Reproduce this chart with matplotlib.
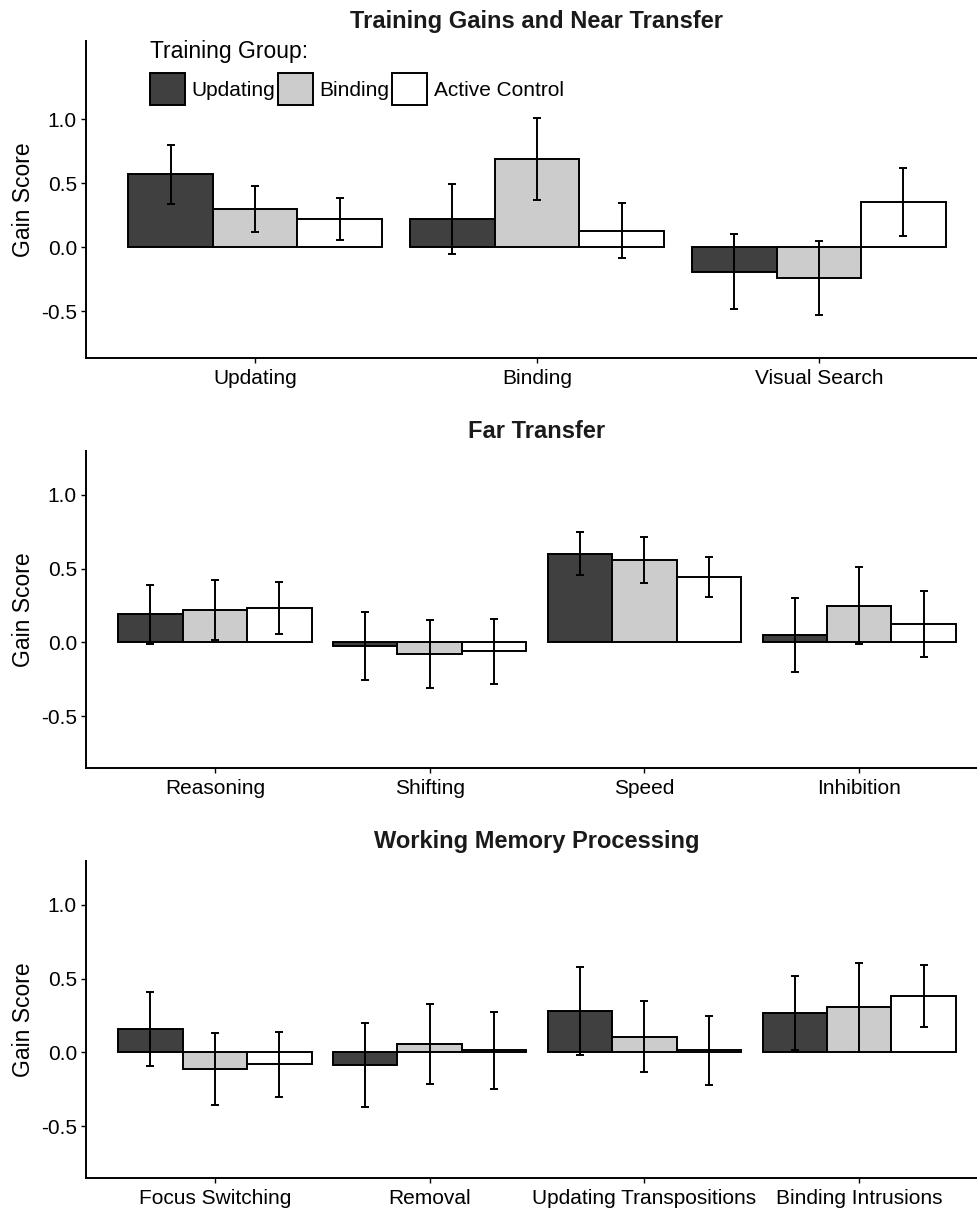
import numpy as np
import matplotlib.pyplot as plt
from matplotlib.ticker import FuncFormatter

plt.rcParams['font.family'] = ['Liberation Sans', 'DejaVu Sans']
plt.rcParams['axes.unicode_minus'] = False

# groups
groups = ["Updating", "Binding", "Active Control"]
fills = ["#404040", "#cccccc", "#ffffff"]

# panel 1: training gains and near transfer
cats1 = ["Updating", "Binding", "Visual Search"]
mean1 = [[0.57, 0.22, -0.19],      # Updating group
         [0.30, 0.69, -0.24],      # Binding group
         [0.22, 0.13, 0.35]]       # Active control
err1 = [[0.23, 0.27, 0.29],
        [0.18, 0.32, 0.29],
        [0.165, 0.215, 0.265]]

# panel 2: far transfer
cats2 = ["Reasoning", "Shifting", "Speed", "Inhibition"]
mean2 = [[0.19, -0.025, 0.60, 0.05],
         [0.22, -0.08, 0.56, 0.25],
         [0.235, -0.06, 0.445, 0.125]]
err2 = [[0.20, 0.23, 0.145, 0.25],
        [0.205, 0.23, 0.155, 0.26],
        [0.175, 0.22, 0.135, 0.225]]

# panel 3: working memory processing
cats3 = ["Focus Switching", "Removal", "Updating Transpositions", "Binding Intrusions"]
mean3 = [[0.16, -0.085, 0.28, 0.265],
         [-0.11, 0.055, 0.105, 0.305],
         [-0.08, 0.015, 0.015, 0.38]]
err3 = [[0.25, 0.285, 0.30, 0.25],
        [0.245, 0.27, 0.24, 0.30],
        [0.22, 0.26, 0.235, 0.21]]

panels = [("Training Gains and Near Transfer", cats1, mean1, err1, (-0.8625, 1.6125)),
          ("Far Transfer", cats2, mean2, err2, (-0.8475, 1.2975)),
          ("Working Memory Processing", cats3, mean3, err3, (-0.8475, 1.2975))]

W, H = 978, 1209
fig = plt.figure(figsize=(W / 100, H / 100), dpi=100)

tops = [40.7, 450.7, 860.7]
ph = 317
left, right = 86, 988

for k, (title, cats, means, errs, ylim) in enumerate(panels):
    ax = fig.add_axes([left / W, 1 - (tops[k] + ph) / H, (right - left) / W, ph / H])
    x = np.arange(1, len(cats) + 1)
    bars = []
    for g in range(3):
        b = ax.bar(x + (g - 1) * 0.3, means[g], width=0.3, color=fills[g],
                   edgecolor="black", linewidth=1.4, label=groups[g], zorder=2)
        bars.append(b)
    for g in range(3):
        ax.errorbar(x + (g - 1) * 0.3, means[g], yerr=errs[g], fmt="none",
                    ecolor="black", elinewidth=1.4, capsize=3.2, capthick=1.4, zorder=3)
    ax.set_xlim(0.4, len(cats) + 0.6)
    ax.set_ylim(*ylim)
    ax.set_xticks(x)
    ax.set_xticklabels(cats)
    ax.set_yticks([-0.5, 0.0, 0.5, 1.0])
    ax.yaxis.set_major_formatter(FuncFormatter(lambda v, p: "%.1f" % v))
    ax.tick_params(labelsize=15, length=3.5, width=1.0, pad=3, colors="black")
    ax.tick_params(axis="x", pad=4.5)
    for s in ["top", "right"]:
        ax.spines[s].set_visible(False)
    for s in ["left", "bottom"]:
        ax.spines[s].set_linewidth(1.4)
    ax.set_ylabel("Gain Score", fontsize=16.5, labelpad=4)
    ax.set_title(title, fontsize=17, fontweight="bold", pad=9.5, color="#1a1a1a")

    if k == 0:
        leg = ax.legend(handles=bars, ncol=3, title="Training Group:", fontsize=15,
                        title_fontsize=16.5, frameon=False, loc="upper left",
                        bbox_to_anchor=(150 / W, 1 - 40 / H), bbox_transform=fig.transFigure,
                        borderpad=0, borderaxespad=0, handlelength=1.68, handleheight=1.95,
                        handletextpad=0.32, columnspacing=0.12, alignment="left")

fig.savefig("out.png", dpi=100)
